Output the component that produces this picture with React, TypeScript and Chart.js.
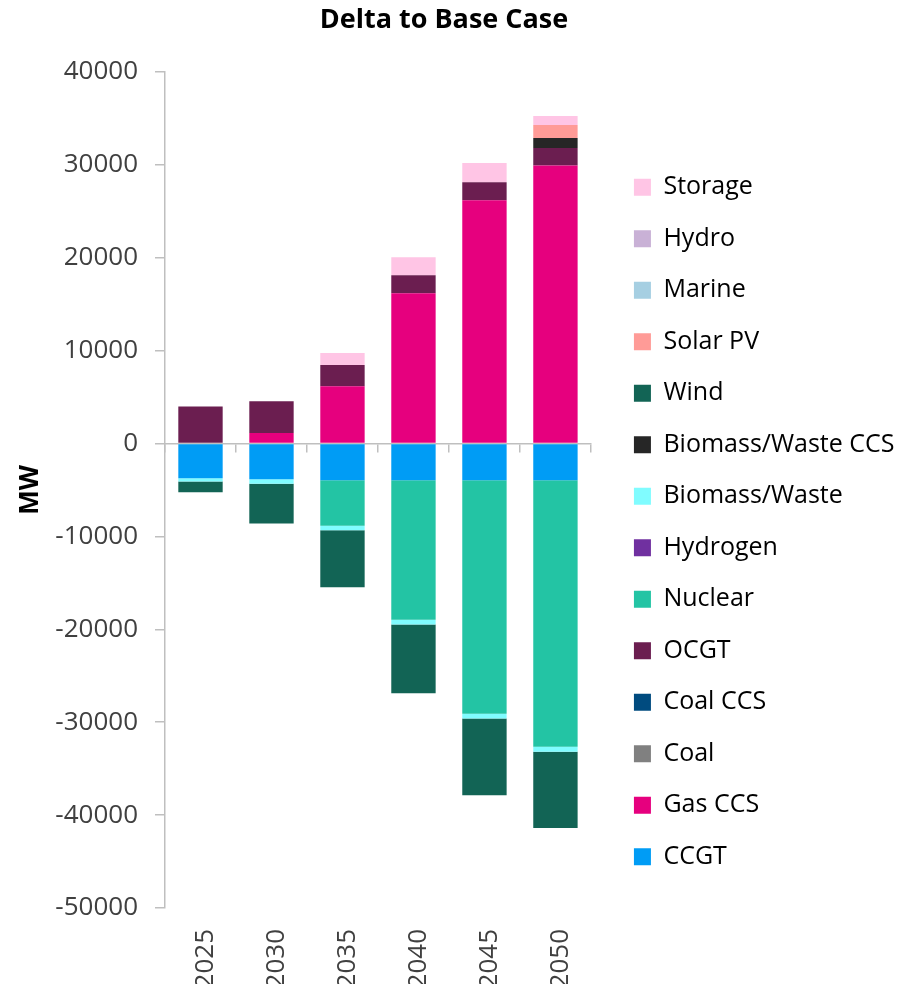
import React, { useEffect, useRef } from "react";
import { Chart, registerables } from "chart.js";

Chart.register(...registerables);

// Change in installed capacity (MW) relative to the base case
const years = ["2025", "2030", "2035", "2040", "2045", "2050"];
const ccgt = [-3730, -3840, -3940, -3940, -3940, -3940];
const gasCcs = [0, 1140, 6170, 16180, 26190, 29930];
const coal = [0, 0, 0, 0, 0, 0];
const coalCcs = [0, 0, 0, 0, 0, 0];
const ocgt = [3980, 3410, 2290, 1940, 1940, 1890];
const nuclear = [0, 0, -4920, -15030, -25150, -28700];
const hydrogen = [0, 0, 0, 0, 0, 0];
const biomassWaste = [-360, -500, -460, -510, -510, -540];
const biomassWasteCcs = [0, 0, 0, 0, 0, 1080];
const wind = [-1150, -4270, -6140, -7390, -8250, -8220];
const solarPv = [0, 0, 0, 0, 0, 1400];
const marine = [0, 0, 0, 0, 0, 0];
const hydro = [0, 0, 0, 0, 0, 0];
const storage = [0, 0, 1290, 1930, 2070, 960];

const yMin = -50000;
const yMax = 40000;
const yStep = 10000;

const FONT = "'Open Sans', 'Noto Sans', sans-serif";
const AXIS_GREY = "#bfbfbf";

// Shift the right-hand legend into its column beside the plot
const legendPlacement = {
  id: "legendPlacement",
  afterLayout(chart: any) {
    const lg = chart.legend;
    if (!lg) return;
    lg.left += 16.5;
    lg.right += 16.5;
    lg.top += 30;
    lg.bottom += 30;
  },
};

export default function App() {
  const canvasRef = useRef<HTMLCanvasElement | null>(null);

  useEffect(() => {
    const canvas = canvasRef.current;
    if (!canvas) return;

    const series = [
      { label: "CCGT", data: ccgt, color: "#009cf5" },
      { label: "Gas CCS", data: gasCcs, color: "#e6007e" },
      { label: "Coal", data: coal, color: "#808080" },
      { label: "Coal CCS", data: coalCcs, color: "#004b7f" },
      { label: "OCGT", data: ocgt, color: "#6b1e50" },
      { label: "Nuclear", data: nuclear, color: "#23c4a4" },
      { label: "Hydrogen", data: hydrogen, color: "#7030a0" },
      { label: "Biomass/Waste", data: biomassWaste, color: "#80fcff" },
      { label: "Biomass/Waste CCS", data: biomassWasteCcs, color: "#262626" },
      { label: "Wind", data: wind, color: "#126455" },
      { label: "Solar PV", data: solarPv, color: "#ff9b97" },
      { label: "Marine", data: marine, color: "#a6cfe2" },
      { label: "Hydro", data: hydro, color: "#c9b1d6" },
      { label: "Storage", data: storage, color: "#ffc5e5" },
    ];

    const chart = new Chart(canvas, {
      type: "bar",
      data: {
        labels: years,
        datasets: series.map((s) => ({
          label: s.label,
          data: s.data,
          backgroundColor: s.color,
          borderWidth: 0,
          barPercentage: 0.625,
          categoryPercentage: 1,
        })),
      },
      options: {
        responsive: false,
        animation: false,
        devicePixelRatio: 1,
        layout: { padding: { left: 0, right: 27, top: 0, bottom: 0 } },
        plugins: {
          title: {
            display: true,
            text: "Delta to Base Case",
            color: "#000",
            font: { family: FONT, size: 27, weight: "bold" },
            padding: { top: 4, bottom: 35.6 },
          },
          legend: {
            position: "right",
            reverse: true,
            maxWidth: 340,
            labels: {
              boxWidth: 17,
              boxHeight: 17,
              padding: 26.5,
              color: "#000",
              font: { family: FONT, size: 25 },
            },
          },
          tooltip: { enabled: false },
        },
        scales: {
          x: {
            type: "category",
            stacked: true,
            position: "bottom",
            grid: { display: false },
            border: { display: false },
            ticks: {
              autoSkip: false,
              minRotation: 90,
              maxRotation: 90,
              padding: 13,
              labelOffset: 5,
              color: "#404040",
              font: { family: FONT, size: 26 },
            },
            afterFit(scale: any) {
              scale.height = 76;
            },
          },
          x2: {
            type: "category",
            axis: "x",
            labels: years,
            position: { y: 0 },
            offset: true,
            grid: {
              offset: true,
              drawOnChartArea: false,
              drawTicks: true,
              tickLength: 8,
              color: AXIS_GREY,
              lineWidth: 1.5,
            },
            border: { display: true, color: AXIS_GREY, width: 1.5 },
            ticks: { display: false },
          },
          y: {
            stacked: true,
            min: yMin,
            max: yMax,
            position: "left",
            grid: {
              drawOnChartArea: false,
              drawTicks: true,
              tickLength: 10,
              color: AXIS_GREY,
              lineWidth: 1.5,
            },
            border: { display: true, color: AXIS_GREY, width: 1.5 },
            ticks: {
              stepSize: yStep,
              padding: 17,
              color: "#404040",
              font: { family: FONT, size: 26 },
              callback: (v: any) => String(v),
            },
            title: {
              display: true,
              text: "MW",
              color: "#000",
              font: { family: FONT, size: 26, weight: "bold" },
              padding: { top: 15, bottom: 0 },
            },
            afterFit(scale: any) {
              scale.width = 165;
            },
          },
        },
      },
      plugins: [legendPlacement],
    });

    return () => chart.destroy();
  }, []);

  return (
    <div style={{ position: "fixed", left: 0, top: 0, width: 915, height: 984, background: "#fff" }}>
      <canvas ref={canvasRef} width={915} height={984} style={{ width: 915, height: 984, display: "block" }} />
    </div>
  );
}
